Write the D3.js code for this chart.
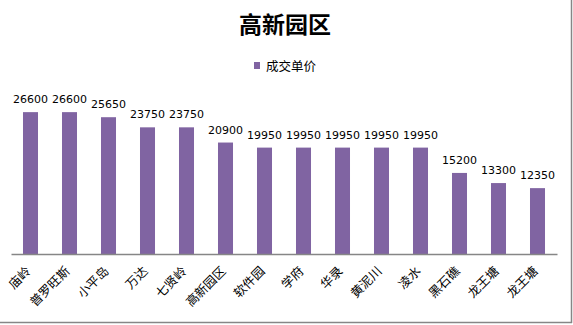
<!DOCTYPE html>
<html><head><meta charset="utf-8">
<script src="https://cdn.jsdelivr.net/npm/d3@7"></script>
<style>html,body{margin:0;padding:0;background:#fff;}svg{display:block;}</style>
</head><body>
<script>
const categories = ["庙岭","普罗旺斯","小平岛","万达","七贤岭","高新园区","软件园","学府","华录","黄泥川","凌水","黑石礁","龙王塘","龙王塘"];
const values = [26600,26600,25650,23750,23750,20900,19950,19950,19950,19950,19950,15200,13300,12350];
const seriesName = "成交单价";
const chartTitle = "高新园区";

const W = 573, H = 325;
const svg = d3.select("body").append("svg").attr("width", W).attr("height", H);
svg.append("rect").attr("width", W).attr("height", H).attr("fill", "#fff");

// border (right and bottom visible)
svg.append("line").attr("x1", 571.5).attr("x2", 571.5).attr("y1", 0).attr("y2", 323).attr("stroke", "#868686").attr("stroke-width", 1.5);
svg.append("line").attr("x1", 0).attr("x2", 572).attr("y1", 322.5).attr("y2", 322.5).attr("stroke", "#868686").attr("stroke-width", 1.5);

const x = d3.scaleBand().domain(d3.range(categories.length)).range([11, 557]).paddingInner(0.615).paddingOuter(0.3075);
const y = d3.scaleLinear().domain([0, 30000]).range([254, 94]);

// title
svg.append("text").attr("x", 285).attr("y", 33).attr("text-anchor", "middle")
  .attr("font-family", "'Noto Sans CJK SC', sans-serif").attr("font-size", 23).attr("font-weight", "bold")
  .attr("fill", "#000").text(chartTitle);

// legend
svg.append("rect").attr("x", 254).attr("y", 62).attr("width", 6).attr("height", 7).attr("fill", "#8064A2");
svg.append("text").attr("x", 266).attr("y", 71).attr("font-family", "'Noto Sans CJK SC', sans-serif")
  .attr("font-size", 12.5).attr("fill", "#000").text(seriesName);

// bars
svg.selectAll("rect.bar").data(values).join("rect").attr("class", "bar")
  .attr("x", (d, i) => x(i)).attr("width", x.bandwidth())
  .attr("y", d => y(d)).attr("height", d => y(0) - y(d)).attr("fill", "#8064A2");

// data labels
svg.selectAll("text.lbl").data(values).join("text").attr("class", "lbl")
  .attr("x", (d, i) => x(i) + x.bandwidth() / 2).attr("y", d => y(d) - 9)
  .attr("text-anchor", "middle").attr("font-family", "'DejaVu Sans', Verdana, sans-serif")
  .attr("font-size", 11).attr("fill", "#000").text(d => d);

// x axis
const xAxis = d3.axisBottom(x).tickSize(0).tickFormat(i => categories[i]);
const gx = svg.append("g").attr("transform", "translate(0,254)").call(xAxis);
gx.select(".domain").attr("stroke", "#868686").attr("stroke-width", 1.5);
gx.selectAll(".tick text")
  .attr("font-family", "'Noto Sans CJK SC', serif").attr("font-size", 12.5).attr("fill", "#000")
  .attr("text-anchor", "end").attr("dy", 0).attr("y", 0)
  .attr("transform", "translate(1,18) rotate(-45)");
</script>
</body></html>
